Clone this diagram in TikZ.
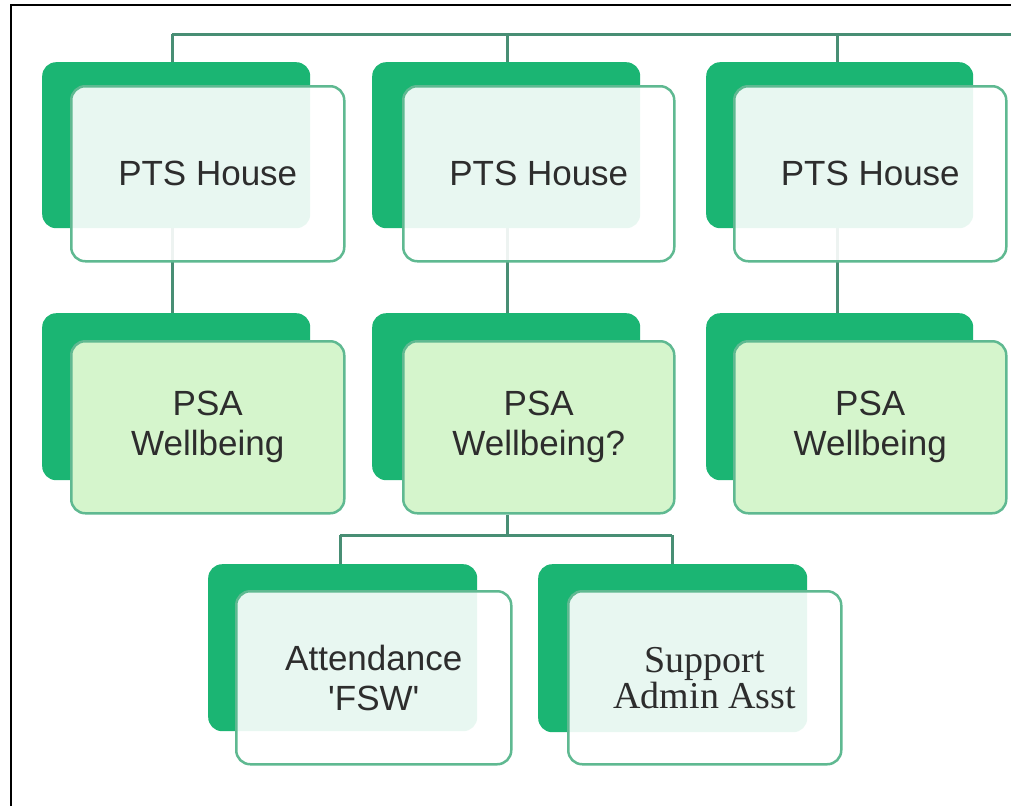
\documentclass[tikz,border=0pt]{standalone}
\usepackage{fontspec}
\setmainfont{Liberation Sans}
\newfontfamily\plainsans{Liberation Sans}
\newfontfamily\orgserif{Liberation Serif}
\pgfdeclarelayer{background}
\pgfdeclarelayer{canvas}
\pgfsetlayers{canvas,background,main}
\definecolor{backgreen}{RGB}{27,181,115}
\definecolor{frontline}{RGB}{95,185,145}
\definecolor{connline}{RGB}{72,142,116}
\definecolor{psagreen}{RGB}{213,245,204}
\definecolor{txt}{RGB}{45,45,45}
\tikzset{
  backbox/.style={fill=backgreen, draw=none, rounded corners=14pt, anchor=north west, inner sep=0pt},
  frontbox/.style={draw=frontline, line width=2.5pt, rounded corners=14pt, anchor=north west,
    fill=white, fill opacity=0.9, text opacity=1, text=txt, inner sep=0pt, align=center,
    font=\fontsize{35}{40}\selectfont},
  psabox/.style={frontbox, fill=psagreen, fill opacity=1},
  conn/.style={draw=connline, line width=3pt},
  frameline/.style={draw=black, line width=2.5pt}
}
\begin{document}
\begin{tikzpicture}[x=1pt, y=-1pt]
\useasboundingbox (0,0) rectangle (1011,806);
\begin{pgfonlayer}{canvas}
\fill[white] (0,0) rectangle (1011,806);
\end{pgfonlayer}
\coordinate (fTL) at (11,806);
\coordinate (fTC) at (11,5);
\coordinate (fTR) at (1011,5);
\draw[frameline] (fTL) -- (fTC) -- (fTR);

% row 1
\node[backbox, minimum width=268pt, minimum height=166pt] (b1) at (42,62) {};
\node[frontbox, minimum width=273pt, minimum height=175pt] (f1) at (70,85) {PTS House};
\node[backbox, minimum width=268pt, minimum height=166pt] (b2) at (372,62) {};
\node[frontbox, minimum width=271pt, minimum height=175pt] (f2) at (402,85) {PTS House};
\node[backbox, minimum width=267pt, minimum height=166pt] (b3) at (706,62) {};
\node[frontbox, minimum width=272pt, minimum height=175pt] (f3) at (733,85) {PTS House};

% row 2
\node[backbox, minimum width=268pt, minimum height=167pt] (c1) at (42,313) {};
\node[psabox, minimum width=273pt, minimum height=172pt] (p1) at (70,340) {PSA\\Wellbeing};
\node[backbox, minimum width=268pt, minimum height=167pt] (c2) at (372,313) {};
\node[psabox, minimum width=271pt, minimum height=172pt] (p2) at (402,340) {PSA\\Wellbeing?};
\node[backbox, minimum width=267pt, minimum height=167pt] (c3) at (706,313) {};
\node[psabox, minimum width=272pt, minimum height=172pt] (p3) at (733,340) {PSA\\Wellbeing};

% row 3
\node[backbox, minimum width=269pt, minimum height=167pt] (d1) at (208,564) {};
\node[frontbox, minimum width=275pt, minimum height=173pt, font=\plainsans\fontsize{35}{40}\selectfont] (a1) at (235,590) {Attendance\\'FSW'};
\node[backbox, minimum width=269pt, minimum height=168pt] (d2) at (538,564) {};
\node[frontbox, minimum width=273pt, minimum height=173pt, font=\orgserif\fontsize{38}{36}\selectfont] (a2) at (567,590) {Support\\Admin Asst};

% connector guide coordinates
\coordinate (x1) at (172,34);
\coordinate (x2) at (507,34);
\coordinate (x3) at (837,34);
\coordinate (xe) at (1011,34);
\coordinate (j2) at (507,535);
\coordinate (jl) at (340,535);
\coordinate (jr) at (672,535);

\begin{pgfonlayer}{background}
  \draw[conn] (x1) -- (xe);
  \draw[conn] (x1) -- (x1 |- b1.north);
  \draw[conn] (x2) -- (x2 |- b2.north);
  \draw[conn] (x3) -- (x3 |- b3.north);
  \draw[conn] (x1 |- b1.south) -- (x1 |- c1.north);
  \draw[conn] (x2 |- b2.south) -- (x2 |- c2.north);
  \draw[conn] (x3 |- b3.south) -- (x3 |- c3.north);
  \draw[conn] (j2 |- p2.south) -- (j2);
  \draw[conn] (jl) -- (jr);
  \draw[conn] (jl) -- (jl |- d1.north);
  \draw[conn] (jr) -- (jr |- d2.north);
\end{pgfonlayer}
\end{tikzpicture}
\end{document}
